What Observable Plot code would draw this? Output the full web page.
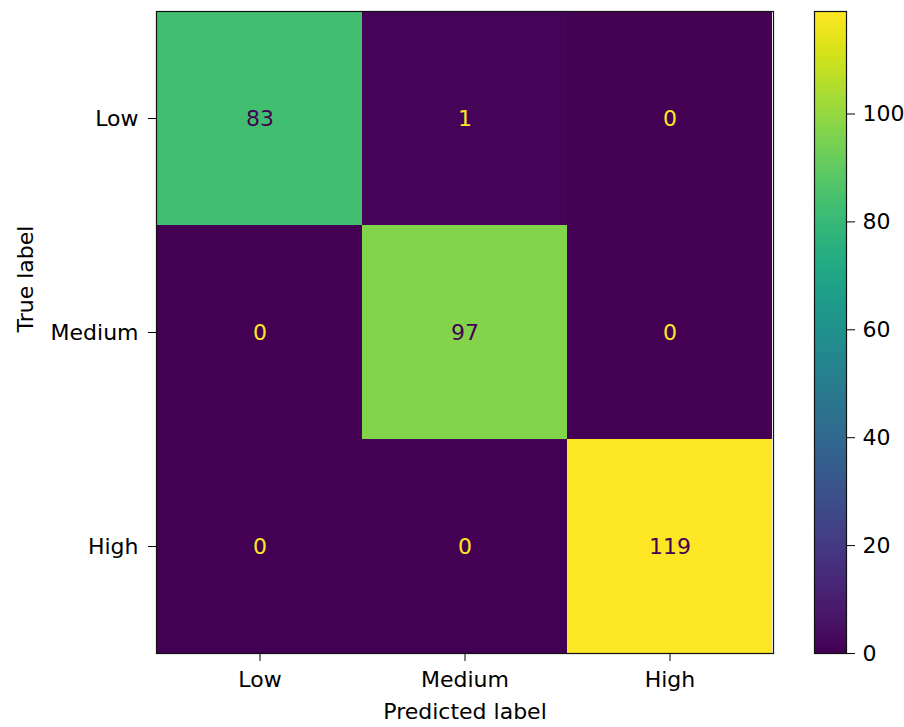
<!DOCTYPE html>
<html>
<head>
<meta charset="utf-8">
<script src="https://cdn.jsdelivr.net/npm/d3@7"></script>
<script src="https://cdn.jsdelivr.net/npm/@observablehq/plot@0.6"></script>
<style>
  html, body { margin: 0; padding: 0; background: #fff; }
  #chart { position: relative; width: 904px; height: 727px; }
  #chart svg { position: absolute; left: 0; top: 0; }
</style>
</head>
<body>
<div id="chart"></div>
<script>
// Class labels, in order for both axes
const classes = ["Low", "Medium", "High"];
// Confusion-matrix counts: rows = true label, columns = predicted label
const counts = [
  [83, 1, 0],
  [0, 97, 0],
  [0, 0, 119]
];
// Colour bar ticks
const colorTicks = [0, 20, 40, 60, 80, 100];

const cells = [];
counts.forEach((row, i) => row.forEach((v, j) => cells.push({trueLabel: classes[i], predLabel: classes[j], value: v})));

const vmin = d3.min(cells, d => d.value);
const vmax = d3.max(cells, d => d.value);
const thresh = (vmin + vmax) / 2;

const font = "DejaVu Sans, Liberation Sans, sans-serif";
const W = 904, H = 727;
const mTop = 11, mBottom = 74;

const matrix = Plot.plot({
  width: W,
  height: H,
  marginLeft: 156,
  marginRight: 131,
  marginTop: mTop,
  marginBottom: mBottom,
  style: {fontFamily: font, fontSize: "22px", color: "#000", background: "transparent"},
  x: {domain: classes, padding: 0, axis: null},
  y: {domain: classes, padding: 0, axis: null},
  color: {type: "linear", scheme: "viridis", domain: [vmin, vmax]},
  marks: [
    Plot.cell(cells, {x: "predLabel", y: "trueLabel", fill: "value"}),
    Plot.text(cells, {
      x: "predLabel", y: "trueLabel", text: d => String(d.value),
      fill: d => d.value > thresh ? d3.interpolateViridis(0) : d3.interpolateViridis(1),
      fontSize: 22
    }),
    Plot.frame({stroke: "#111", strokeWidth: 1.2}),
    Plot.axisX({anchor: "bottom", tickSize: 8, tickPadding: 10, label: null, fontSize: 22}),
    Plot.axisY({anchor: "left", tickSize: 8, tickPadding: 10, label: null, fontSize: 22}),
    Plot.text(["Predicted label"], {frameAnchor: "bottom", dy: 65, fontSize: 22, fill: "#000"}),
    Plot.text(["True label"], {frameAnchor: "left", dx: -131, rotate: -90, fontSize: 22, fill: "#000"})
  ]
});

// Colour bar: thin horizontal strips stacked over the value range
const strips = d3.range(vmin, vmax, 0.25);
const colorbar = Plot.plot({
  width: W,
  height: H,
  marginLeft: 814,
  marginRight: 58,
  marginTop: mTop,
  marginBottom: mBottom,
  style: {fontFamily: font, fontSize: "22px", color: "#000", background: "transparent"},
  x: {axis: null},
  y: {domain: [vmin, vmax], axis: null},
  color: {type: "linear", scheme: "viridis", domain: [vmin, vmax]},
  marks: [
    Plot.rect(strips, {y1: d => d, y2: d => Math.min(vmax, d + 0.35), fill: d => d + 0.125, shapeRendering: "crispEdges"}),
    Plot.frame({stroke: "#111", strokeWidth: 1.2}),
    Plot.axisY({anchor: "right", ticks: colorTicks, tickSize: 8, tickPadding: 8, label: null, fontSize: 22, tickFormat: d => String(d)})
  ]
});

const root = document.getElementById("chart");
root.append(matrix);
root.append(colorbar);
</script>
</body>
</html>
